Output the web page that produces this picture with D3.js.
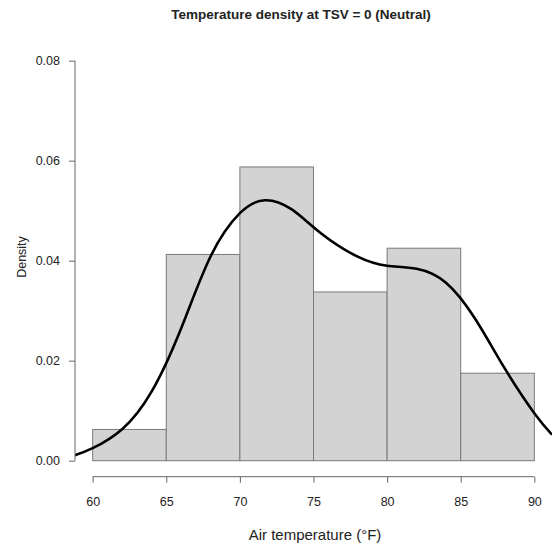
<!DOCTYPE html>
<html>
<head>
<meta charset="utf-8">
<script src="https://cdn.jsdelivr.net/npm/d3@7"></script>
<style>
  html, body { margin: 0; padding: 0; background: #fff; }
  svg { display: block; font-family: "Liberation Sans", Arial, Helvetica, sans-serif; }
</style>
</head>
<body>
<svg id="chart" width="552" height="546"></svg>
<script>
// Histogram bins (°F) and their densities
const binStarts = [60, 65, 70, 75, 80, 85];
const binEnds = [65, 70, 75, 80, 85, 90];
const binDensity = [0.00625, 0.04125, 0.05875, 0.03375, 0.0425, 0.0175];

// Kernel density estimate, sampled along the temperature axis
const kdeTemp = [58.8, 60, 62, 64, 66, 68, 70, 71.7, 73.5, 75.5, 78, 80, 82, 84, 86, 88, 90, 91.2];
const kdeDensity = [0.0011, 0.0025, 0.0063, 0.0138, 0.0264, 0.0408, 0.0495, 0.0521, 0.0503,
                    0.0455, 0.0408, 0.0390, 0.0384, 0.0356, 0.0283, 0.0184, 0.0095, 0.0052];

// Axis ticks
const xTicks = [60, 65, 70, 75, 80, 85, 90];
const yTicks = [0, 0.02, 0.04, 0.06, 0.08];

const svg = d3.select("#chart");
const textColor = "#222";
const axisColor = "#666";

const x = d3.scaleLinear().domain([58.8, 91.2]).range([75, 552]);
const y = d3.scaleLinear().domain([-0.0032, 0.0832]).range([476.7, 44.7]);

svg.append("defs").append("clipPath").attr("id", "plotClip")
  .append("rect")
  .attr("x", x.range()[0]).attr("y", y.range()[1])
  .attr("width", x.range()[1] - x.range()[0])
  .attr("height", y.range()[0] - y.range()[1]);

// Title
svg.append("text")
  .attr("x", 301).attr("y", 19)
  .attr("text-anchor", "middle")
  .attr("font-weight", "bold")
  .attr("font-size", 13.5)
  .attr("fill", textColor)
  .text("Temperature density at TSV = 0 (Neutral)");

// Histogram bars
const bins = binStarts.map((s, i) => ({ x0: s, x1: binEnds[i], d: binDensity[i] }));
svg.append("g").attr("clip-path", "url(#plotClip)")
  .selectAll("rect").data(bins).join("rect")
  .attr("x", d => x(d.x0))
  .attr("y", d => y(d.d))
  .attr("width", d => x(d.x1) - x(d.x0))
  .attr("height", d => y(0) - y(d.d))
  .attr("fill", "#d3d3d3")
  .attr("stroke", "#7a7a7a")
  .attr("stroke-width", 1);

// Density curve
const kde = kdeTemp.map((t, i) => [t, kdeDensity[i]]);
svg.append("path")
  .datum(kde)
  .attr("clip-path", "url(#plotClip)")
  .attr("fill", "none")
  .attr("stroke", "#000")
  .attr("stroke-width", 2.6)
  .attr("stroke-linejoin", "round")
  .attr("d", d3.line().x(d => x(d[0])).y(d => y(d[1])).curve(d3.curveNatural));

// X axis
const xAxis = svg.append("g")
  .attr("transform", `translate(0,${y(-0.0032)})`)
  .call(d3.axisBottom(x).tickValues(xTicks).tickFormat(d3.format("d")).tickSize(6).tickPadding(14));
xAxis.select(".domain").remove();
xAxis.append("line")
  .attr("x1", x(xTicks[0])).attr("x2", x(xTicks[xTicks.length - 1]))
  .attr("stroke", axisColor);
xAxis.selectAll(".tick line").attr("stroke", axisColor);
xAxis.selectAll(".tick text").attr("font-size", 12.5).attr("fill", textColor).attr("font-family", null);

// Y axis
const yAxis = svg.append("g")
  .attr("transform", `translate(${x(58.8)},0)`)
  .call(d3.axisLeft(y).tickValues(yTicks).tickFormat(d3.format(".2f")).tickSize(6).tickPadding(9));
yAxis.select(".domain").remove();
yAxis.append("line")
  .attr("y1", y(yTicks[0])).attr("y2", y(yTicks[yTicks.length - 1]))
  .attr("stroke", axisColor);
yAxis.selectAll(".tick line").attr("stroke", axisColor);
yAxis.selectAll(".tick text").attr("font-size", 12.5).attr("fill", textColor).attr("font-family", null);

// Axis titles
svg.append("text")
  .attr("x", 315).attr("y", 539.5)
  .attr("text-anchor", "middle")
  .attr("font-size", 15)
  .attr("fill", textColor)
  .text("Air temperature (°F)");

svg.append("text")
  .attr("transform", "translate(26,257) rotate(-90)")
  .attr("text-anchor", "middle")
  .attr("font-size", 12.5)
  .attr("fill", textColor)
  .text("Density");
</script>
</body>
</html>
